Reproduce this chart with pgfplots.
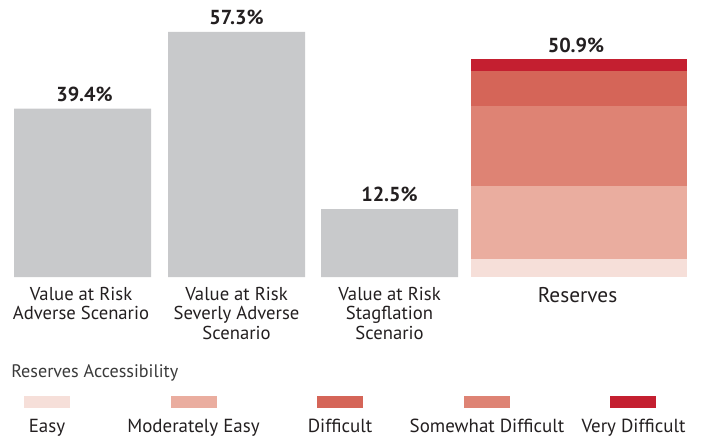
\documentclass[border=0pt]{standalone}
\usepackage{pgfplots}
\pgfplotsset{compat=1.18}
\usepackage{fontspec}
\setmainfont{PT Sans}
\definecolor{barGray}{HTML}{C8C9CB}
\definecolor{cEasy}{HTML}{F6DFD9}
\definecolor{cModEasy}{HTML}{EAAD9F}
\definecolor{cDiff}{HTML}{D56558}
\definecolor{cSomeDiff}{HTML}{DE8374}
\definecolor{cVeryDiff}{HTML}{C41F30}
\definecolor{txt}{HTML}{231F20}
\definecolor{ttl}{HTML}{3A3A3A}
\begin{document}
\begin{tikzpicture}
\begin{axis}[
  scale only axis,
  width=527.25pt, height=328.5pt,
  xmin=0, xmax=703,
  ymin=-37.65, ymax=64.78,
  hide axis,
  clip=false,
]
% Value at risk bars (gray)
\addplot[ybar, bar shift=0pt, draw=none, fill=barGray, bar width=137] coordinates {(82.5,39.4) (236.5,57.3) (389.5,15.9)};
% Reserves segments (cumulative tops: easy 4.1, moderately easy +17.1, somewhat difficult +18.9, difficult +8.0, very difficult +2.8)
\addplot[ybar, bar shift=0pt, draw=none, fill=cVeryDiff, bar width=216] coordinates {(579,50.9)};
\addplot[ybar, bar shift=0pt, draw=none, fill=cDiff, bar width=216] coordinates {(579,48.1)};
\addplot[ybar, bar shift=0pt, draw=none, fill=cSomeDiff, bar width=216] coordinates {(579,40.1)};
\addplot[ybar, bar shift=0pt, draw=none, fill=cModEasy, bar width=216] coordinates {(579,21.2)};
\addplot[ybar, bar shift=0pt, draw=none, fill=cEasy, bar width=216] coordinates {(579,4.1)};
\path (rel axis cs:0,0) rectangle (rel axis cs:1,1);

% value labels
\begin{scope}[every node/.style={anchor=base, font=\bfseries\fontsize{15.2}{17}\selectfont, text=txt, inner sep=0pt}]
\node at (axis cs:84.5,41.05) {39.4\%};
\node at (axis cs:236.5,58.95) {57.3\%};
\node at (axis cs:389.5,17.55) {12.5\%};
\node at (axis cs:576,52.55) {50.9\%};
\end{scope}

% category labels
\begin{scope}[every node/.style={anchor=base, font=\fontsize{14}{16}\selectfont, text=txt, inner sep=0pt}]
\node at (axis cs:81,-5.38) {Value at Risk};
\node at (axis cs:81,-9.94) {Adverse Scenario};
\node at (axis cs:236.5,-5.38) {Value at Risk};
\node at (axis cs:236.5,-9.94) {Severly Adverse};
\node at (axis cs:236.5,-14.50) {Scenario};
\node at (axis cs:389.5,-5.38) {Value at Risk};
\node at (axis cs:389.5,-9.94) {Stagflation};
\node at (axis cs:389.5,-14.50) {Scenario};
\end{scope}
\node[anchor=base, font=\fontsize{16}{18}\selectfont, text=txt, inner sep=0pt] at (axis cs:577.5,-5.85) {Reserves};

% legend
\node[anchor=base west, font=\fontsize{13.6}{15}\selectfont, text=ttl, inner sep=0pt] at (axis cs:11,-23.39) {Reserves Accessibility};
\fill[cEasy] (axis cs:24,-27.83) rectangle (axis cs:70,-30.64);
\fill[cModEasy] (axis cs:171,-27.83) rectangle (axis cs:217,-30.64);
\fill[cDiff] (axis cs:317,-27.83) rectangle (axis cs:363,-30.64);
\fill[cSomeDiff] (axis cs:464,-27.83) rectangle (axis cs:510,-30.64);
\fill[cVeryDiff] (axis cs:610,-27.83) rectangle (axis cs:656,-30.64);
\begin{scope}[every node/.style={anchor=base, font=\fontsize{14.2}{16}\selectfont, text=txt, inner sep=0pt}]
\node at (axis cs:47,-36.25) {Easy};
\node at (axis cs:193.5,-36.25) {Moderately Easy};
\node at (axis cs:340,-36.25) {Difficult};
\node at (axis cs:487,-36.25) {Somewhat Difficult};
\node at (axis cs:633.5,-36.25) {Very Difficult};
\end{scope}
\end{axis}
\end{tikzpicture}
\end{document}
